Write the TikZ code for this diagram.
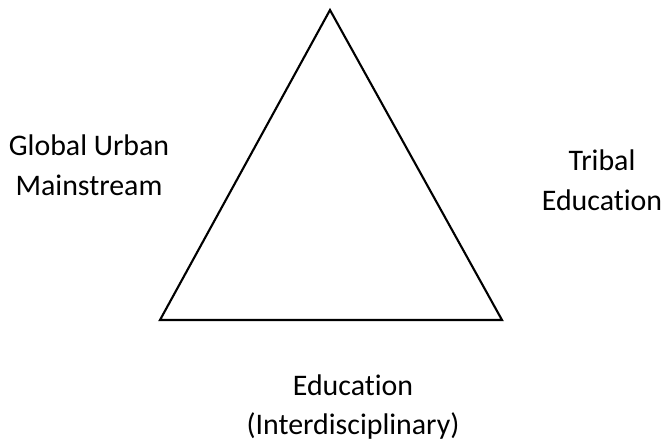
\documentclass[tikz,border=0pt]{standalone}
\usepackage{fontspec}
\setmainfont[Ligatures={NoCommon}]{Carlito}
\usepackage{tikz}

\begin{document}
\begin{tikzpicture}
\useasboundingbox (0,0) rectangle (6.63,4.41);
\tikzset{lbl/.style={align=center,inner sep=0pt,font=\fontsize{8.5}{11.3}\selectfont}}
\coordinate (top) at (3.30,4.31);
\coordinate (left) at (1.60,1.21);
\coordinate (right) at (5.02,1.21);
\draw[line width=0.6pt] (top) -- (left) -- (right) -- cycle;
\node[lbl] (global) at (0.89,2.76) {Global Urban\\Mainstream};
\node[lbl] (tribal) at (6.02,2.61) {Tribal\\Education};
\node[lbl] (edu) at (3.53,0.34) {Education\\(Interdisciplinary)};
\end{tikzpicture}
\end{document}
